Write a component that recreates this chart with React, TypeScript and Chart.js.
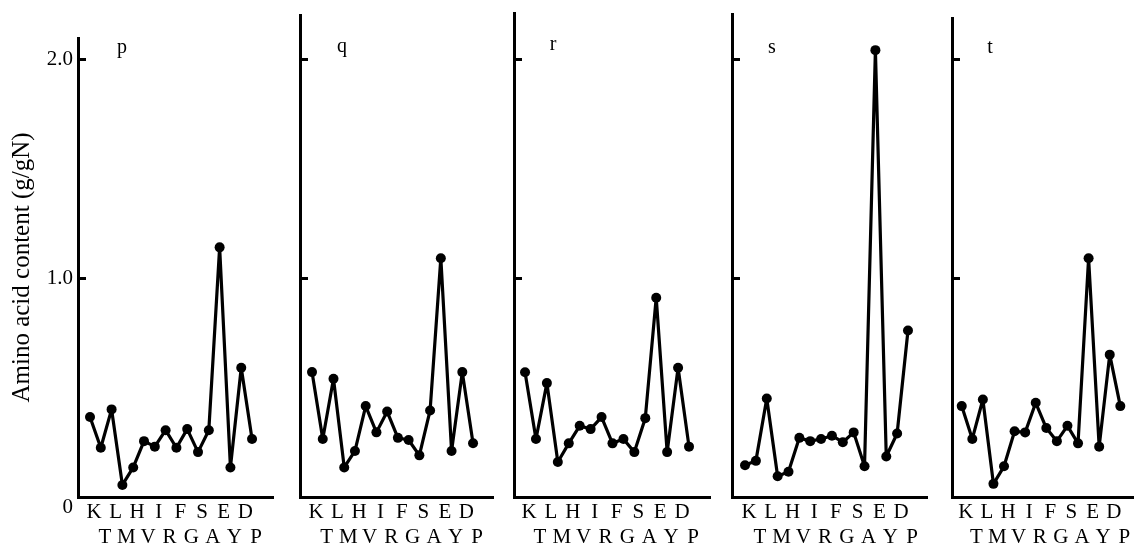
import React, { useEffect, useRef } from 'react';
import { Chart, registerables } from 'chart.js';

Chart.register(...registerables);

// Amino acids in plotting order (upper row: even positions, lower row: odd positions)
const AMINO_ACIDS = ['K', 'T', 'L', 'M', 'H', 'V', 'I', 'R', 'F', 'G', 'S', 'A', 'E', 'Y', 'D', 'P'];
const PANEL_NAMES = ['p', 'q', 'r', 's', 't'];
const Y_TICKS = [0, 1, 2];
const Y_TICK_LABELS = ['0', '1.0', '2.0'];
const Y_TITLE = 'Amino acid content (g/gN)';

// Amino acid content (g/gN), one array per panel
const VALUES_P = [0.365, 0.225, 0.4, 0.055, 0.135, 0.255, 0.23, 0.305, 0.225, 0.31, 0.205, 0.305, 1.14, 0.135, 0.59, 0.265];
const VALUES_Q = [0.57, 0.265, 0.54, 0.135, 0.21, 0.415, 0.295, 0.39, 0.27, 0.26, 0.19, 0.395, 1.09, 0.21, 0.57, 0.245];
const VALUES_R = [0.57, 0.265, 0.52, 0.16, 0.245, 0.325, 0.31, 0.365, 0.245, 0.265, 0.205, 0.36, 0.91, 0.205, 0.59, 0.23];
const VALUES_S = [0.145, 0.165, 0.45, 0.095, 0.115, 0.27, 0.255, 0.265, 0.28, 0.25, 0.295, 0.14, 2.04, 0.185, 0.29, 0.76];
const VALUES_T = [0.415, 0.265, 0.445, 0.06, 0.14, 0.3, 0.295, 0.43, 0.315, 0.255, 0.325, 0.245, 1.09, 0.23, 0.65, 0.415];
const SERIES = [VALUES_P, VALUES_Q, VALUES_R, VALUES_S, VALUES_T];

// Layout (pixels / axis ranges) for each panel
const W = 1138;
const H = 547;
const BOTTOM = 497;
const LAYOUT = [
  { axisX: 78, top: 38, right: 273, xMin: -1.11, xMax: 16.94, yMax: 2.096, nameX: 122, nameY: 48 },
  { axisX: 300, top: 15, right: 493, xMin: -1.12, xMax: 16.86, yMax: 2.2, nameX: 342, nameY: 47 },
  { axisX: 514, top: 13, right: 710, xMin: -1.01, xMax: 16.92, yMax: 2.21, nameX: 553, nameY: 45 },
  { axisX: 732, top: 14, right: 927, xMin: -1.2, xMax: 16.75, yMax: 2.205, nameX: 772, nameY: 48 },
  { axisX: 952, top: 18, right: 1138, xMin: -0.92, xMax: 16.2, yMax: 2.187, nameX: 990, nameY: 48 },
];
const FONT = '"Liberation Serif", "Times New Roman", serif';

const decorPlugin = {
  id: 'decor',
  afterDraw(chart: any, _args: any, opts: any) {
    const { ctx, chartArea, scales } = chart;
    const y = scales.y;
    ctx.save();
    ctx.strokeStyle = '#000';
    ctx.lineWidth = 3;
    for (const v of [1, 2]) {
      const py = Math.round(y.getPixelForValue(v)) + 0.5;
      ctx.beginPath();
      ctx.moveTo(chartArea.left, py);
      ctx.lineTo(chartArea.left + 8, py);
      ctx.stroke();
    }
    ctx.fillStyle = '#000';
    ctx.font = `20px ${FONT}`;
    ctx.textAlign = 'center';
    ctx.textBaseline = 'middle';
    ctx.fillText(opts.name, opts.x, opts.y);
    ctx.restore();
  },
};

function Panel({ index }: { index: number }) {
  const ref = useRef<HTMLCanvasElement | null>(null);
  useEffect(() => {
    const L = LAYOUT[index];
    const first = index === 0;
    const chart = new Chart(ref.current as HTMLCanvasElement, {
      type: 'line',
      data: {
        datasets: [
          {
            data: SERIES[index].map((v, i) => ({ x: i, y: v })),
            borderColor: '#000',
            borderWidth: 3.2,
            borderJoinStyle: 'round',
            borderCapStyle: 'round',
            pointRadius: 5,
            pointBackgroundColor: '#000',
            pointBorderWidth: 0,
            tension: 0,
            fill: false,
            clip: false as any,
          },
        ],
      },
      options: {
        animation: false,
        responsive: false,
        devicePixelRatio: 1,
        events: [],
        layout: { padding: { left: first ? 0 : L.axisX, top: L.top, right: W - L.right, bottom: 0 } },
        plugins: {
          legend: { display: false },
          tooltip: { enabled: false },
          decor: { name: PANEL_NAMES[index], x: L.nameX, y: L.nameY },
        } as any,
        scales: {
          x: {
            type: 'linear',
            min: L.xMin,
            max: L.xMax,
            afterFit: (s: any) => {
              s.height = H - BOTTOM;
            },
            afterBuildTicks: (s: any) => {
              s.ticks = AMINO_ACIDS.map((_, i) => ({ value: i }));
            },
            grid: { display: false, drawTicks: false, tickLength: 0 },
            border: { display: true, color: '#000', width: 3 },
            ticks: {
              autoSkip: false,
              maxRotation: 0,
              minRotation: 0,
              padding: 3,
              labelOffset: 4,
              color: '#000',
              font: { family: FONT, size: 21, lineHeight: '25px' },
              callback: (v: any) => {
                const i = Math.round(Number(v));
                return i % 2 === 0 ? AMINO_ACIDS[i] : ['', AMINO_ACIDS[i]];
              },
            },
          },
          y: {
            type: 'linear',
            min: 0,
            max: L.yMax,
            afterFit: (s: any) => {
              s.width = first ? L.axisX : 0;
            },
            afterBuildTicks: (s: any) => {
              s.ticks = Y_TICKS.map((v) => ({ value: v }));
            },
            grid: { display: false, drawTicks: false, tickLength: 0 },
            border: { display: true, color: '#000', width: 3 },
            ticks: {
              display: first,
              padding: 5,
              color: '#000',
              font: { family: FONT, size: 21, lineHeight: 1 },
              callback: (v: any) => {
                const k = Y_TICKS.indexOf(Number(v));
                return k === 0 ? ['', Y_TICK_LABELS[0]] : Y_TICK_LABELS[k];
              },
            },
            title: {
              display: first,
              text: Y_TITLE,
              color: '#000',
              font: { family: FONT, size: 25 },
              padding: { top: 7, bottom: 0 },
            },
          },
        },
      } as any,
      plugins: [decorPlugin],
    });
    return () => chart.destroy();
  }, [index]);
  return (
    <canvas
      ref={ref}
      width={W}
      height={H}
      style={{ position: 'absolute', left: 0, top: 0, width: W, height: H }}
    />
  );
}

export default function App() {
  return (
    <div style={{ position: 'fixed', left: 0, top: 0, width: W, height: H, background: '#fff', overflow: 'hidden' }}>
      {SERIES.map((_, i) => (
        <Panel key={i} index={i} />
      ))}
    </div>
  );
}
